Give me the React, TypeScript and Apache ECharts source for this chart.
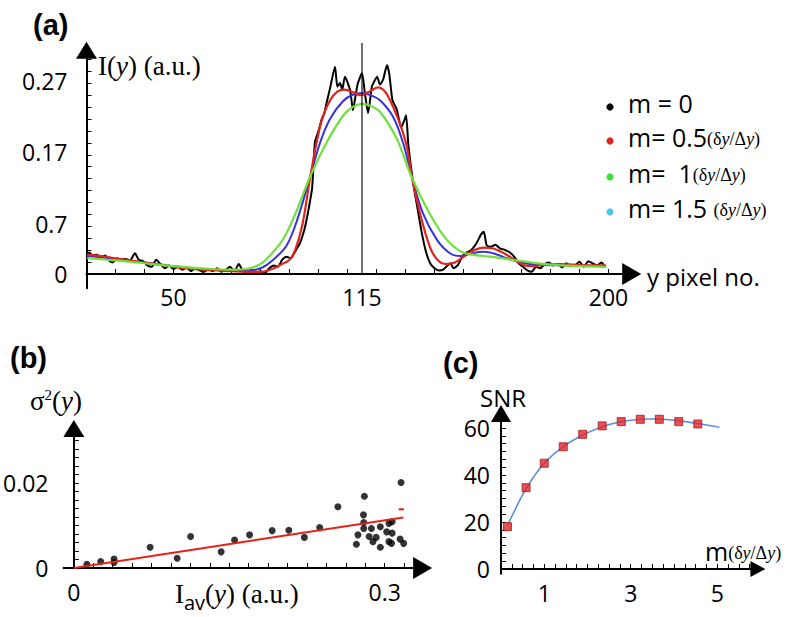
import React, { useEffect, useRef } from "react";
import * as echarts from "echarts";

const SANS = "'Open Sans', 'Noto Sans', sans-serif";
const SERIF = "'Liberation Serif', 'DejaVu Serif', serif";

// ---------- Panel (a): intensity profiles ----------
const aXLabelValues = [50, 115, 200];
const aXTickValues = [30, 40, 50, 60, 70, 80, 90, 100, 110, 120, 130, 140, 150, 160, 170, 180, 190, 200];
const aYLabelValues = [0, 0.07, 0.17, 0.27];
const aYLabelTexts = ["0", "0.7", "0.17", "0.27"];
const aYTickValues = Array.from({ length: 19 }, (_, i) => +(i / 60).toFixed(4));
const centerPixel = 115;
const centerLineTop = 0.323;

const profileM0: number[][] = [
  [20.2, 0.028], [21, 0.03], [22, 0.026], [23.5, 0.027], [25, 0.024], [26.5, 0.026], [28, 0.018], [29, 0.016],
  [30.5, 0.022], [32, 0.02], [33.5, 0.021], [35, 0.019], [36.7, 0.029], [38, 0.02], [39.5, 0.018], [41, 0.012],
  [42.5, 0.01], [44, 0.02], [45.5, 0.014], [47, 0.008], [48.5, 0.012], [50, 0.007], [51.5, 0.01], [53, 0.006],
  [54.5, 0.009], [56, 0.004], [57.5, 0.008], [59, 0.005], [60.5, 0.003], [62, 0.007], [63.5, 0.004], [65, 0.008],
  [66.5, 0.003], [68, 0.006], [69.5, 0.01], [71, 0.004], [72.5, 0.014], [74, 0.004], [75.5, 0.002], [77, 0.006],
  [78.5, 0.002], [80, 0.004], [81.5, 0.001], [83, 0.008], [84.5, 0.012], [86, 0.01], [87.5, 0.02], [89, 0.024],
  [90.5, 0.022], [92, 0.032], [93.6, 0.043], [95, 0.06], [96, 0.078], [97, 0.1], [97.8, 0.12], [98.8, 0.185],
  [100, 0.2], [101, 0.215], [102, 0.225], [103, 0.243], [104, 0.26], [105.7, 0.29], [106.5, 0.262], [107.4, 0.267],
  [108.2, 0.258], [109.1, 0.276], [110.9, 0.257], [111.9, 0.229], [112.8, 0.25], [113.6, 0.267], [115, 0.281],
  [116, 0.253], [117.1, 0.225], [118.4, 0.262], [119.3, 0.27], [120.2, 0.276], [121.2, 0.265], [122.3, 0.272],
  [123.6, 0.292], [124.4, 0.28], [125.5, 0.243], [127, 0.23], [128.5, 0.205], [129.6, 0.215], [130.2, 0.222],
  [131, 0.18], [132.5, 0.131], [134, 0.095], [135.5, 0.06], [137, 0.032], [138.5, 0.015], [140, 0.008],
  [141.5, 0.005], [143, 0.006], [144.5, 0.012], [145.5, 0.015], [146.5, 0.008], [148, 0.012], [149.5, 0.024],
  [151, 0.03], [152.5, 0.033], [154, 0.04], [155, 0.047], [156, 0.055], [157, 0.059], [158, 0.04], [159.5, 0.038],
  [161, 0.041], [162.5, 0.036], [164, 0.034], [166, 0.03], [167.5, 0.024], [169, 0.015], [170.5, 0.01],
  [172, 0.005], [173.5, 0.003], [175, 0.01], [176.5, 0.008], [178, 0.014], [179.5, 0.016], [181, 0.012],
  [182.5, 0.014], [184, 0.009], [185.5, 0.015], [187, 0.011], [188.5, 0.012], [190, 0.017], [191.5, 0.01],
  [193, 0.018], [194.5, 0.015], [196, 0.012], [197.5, 0.016], [199, 0.01],
];

const profileM05: number[][] = [
  [20.2, 0.027], [25, 0.025], [30, 0.022], [35, 0.019], [40, 0.016], [45, 0.013], [50, 0.01], [55, 0.008],
  [60, 0.006], [65, 0.005], [70, 0.004], [75, 0.003], [80, 0.003], [84, 0.007], [87, 0.013], [90, 0.02],
  [92, 0.034], [94.5, 0.07], [97, 0.132], [99.5, 0.187], [101.5, 0.22], [104, 0.243], [106.5, 0.255],
  [109, 0.258], [112, 0.254], [114.5, 0.25], [117.5, 0.255], [120.5, 0.261], [123, 0.255], [125, 0.24],
  [128, 0.211], [130.5, 0.178], [132.2, 0.136], [135, 0.085], [138.4, 0.038], [141, 0.02], [144, 0.014],
  [147, 0.016], [150, 0.024], [153, 0.032], [157, 0.037], [160, 0.036], [163, 0.031], [166, 0.024],
  [169, 0.016], [171, 0.012], [174, 0.011], [178, 0.013], [183, 0.014], [188, 0.013], [193, 0.012], [199, 0.012],
];

const profileM1: number[][] = [
  [20.2, 0.022], [30, 0.019], [40, 0.015], [50, 0.011], [60, 0.008], [70, 0.006], [75, 0.007], [80, 0.014],
  [84, 0.029], [88, 0.05], [92, 0.084], [97.1, 0.136], [102.8, 0.184], [108.6, 0.222], [112, 0.234],
  [115, 0.238], [118, 0.235], [121.2, 0.227], [127, 0.189], [132.1, 0.136], [138.4, 0.084], [144.2, 0.048],
  [148.8, 0.032], [153, 0.027], [160, 0.024], [170, 0.018], [180, 0.013], [190, 0.011], [199, 0.01],
];

const profileM15: number[][] = [
  [20.2, 0.025], [30, 0.021], [40, 0.016], [50, 0.011], [60, 0.007], [70, 0.005], [75, 0.005], [80, 0.008],
  [84.4, 0.02], [89, 0.04], [92.6, 0.075], [97.1, 0.136], [100.5, 0.183], [104, 0.217], [108.5, 0.242],
  [112, 0.251], [115, 0.253], [118, 0.25], [121.2, 0.243], [125.7, 0.22], [129.2, 0.183], [132.2, 0.136],
  [136, 0.085], [140.8, 0.048], [145.3, 0.029], [149, 0.025], [153, 0.029], [157, 0.031], [161, 0.028],
  [165, 0.022], [170, 0.016], [175, 0.013], [185, 0.012], [199, 0.011],
];

const legendRows = [
  { main: "m = 0", unit: false, color: "#000000" },
  { main: "m= 0.5", unit: true, color: "#e2231a" },
  { main: "m=\u00a0 1", unit: true, color: "#3fe03a" },
  { main: "m= 1.5\u00a0", unit: true, color: "#4cc4ee" },
];

// ---------- Panel (b): variance vs mean intensity ----------
const intensityAv = [
  0.0126, 0.0259, 0.0388, 0.0388, 0.0736, 0.0997, 0.1127, 0.1422, 0.1551, 0.1696, 0.1914, 0.2075, 0.2225,
  0.2373, 0.2548, 0.2727, 0.2742, 0.2795, 0.2804, 0.2798, 0.2798, 0.2872, 0.285, 0.2887, 0.2918, 0.2958,
  0.2958, 0.3019, 0.3041, 0.3041, 0.3072, 0.3072, 0.3066, 0.3158, 0.3149, 0.3183,
];
const varianceValues = [
  0.0009, 0.0015, 0.0021, 0.0013, 0.0049, 0.0023, 0.0074, 0.0038, 0.0066, 0.0078, 0.0088, 0.0089, 0.0072,
  0.0095, 0.0144, 0.0056, 0.0078, 0.0125, 0.0169, 0.0107, 0.0093, 0.0093, 0.0074, 0.0062, 0.0072, 0.0097,
  0.0049, 0.0085, 0.0105, 0.0062, 0.0082, 0.0109, 0.0058, 0.0201, 0.0068, 0.0058,
];
const fitLineB = [[0, 0], [0.318, 0.0119]];
const fitDashB = [[0.3135, 0.0138], [0.3185, 0.0138]];
const bXLabelValues = [0, 0.3];
const bYLabelValues = [0, 0.02];
const bXTickValues = Array.from({ length: 18 }, (_, i) => +(i * 0.01875).toFixed(5));
const bYTickValues = Array.from({ length: 16 }, (_, i) => +(i * 0.002).toFixed(4));

// ---------- Panel (c): SNR vs m ----------
const mValues = [0.15, 0.58, 1.0, 1.44, 1.89, 2.34, 2.78, 3.22, 3.66, 4.11, 4.55];
const snrValues = [18.0, 34.6, 45.0, 52.0, 57.3, 60.9, 62.7, 63.7, 63.7, 62.7, 61.7];
const fitM = [0.15, 0.4, 0.6, 1.0, 1.5, 2.0, 2.5, 3.0, 3.5, 4.0, 4.5, 5.05];
const fitSnr = [18.5, 28, 34.8, 45, 52.8, 58, 61.5, 63.3, 63.8, 63.3, 62, 60.3];
const cXLabelValues = [1, 3, 5];
const cYLabelValues = [0, 20, 40, 60];
const cXTickValues = Array.from({ length: 24 }, (_, i) => i * 0.25);
const cYTickValues = Array.from({ length: 20 }, (_, i) => +((i * 10) / 3).toFixed(3));

function makeAxis(
  gridIndex: number,
  min: number,
  max: number,
  labels: number[],
  ticks: number[],
  arrow: number[],
  margin: number,
  formatter?: (v: number) => string
) {
  return {
    gridIndex,
    type: "value",
    min,
    max,
    axisLine: {
      show: true,
      onZero: true,
      symbol: ["none", "triangle"],
      symbolSize: arrow,
      lineStyle: { color: "#000", width: 2 },
    },
    axisTick: {
      show: true,
      inside: true,
      length: 5,
      customValues: ticks,
      lineStyle: { color: "#000", width: 1 },
    },
    axisLabel: {
      show: true,
      customValues: labels,
      margin,
      color: "#000",
      fontFamily: SANS,
      fontSize: 23,
      formatter: formatter || ((v: number) => String(v)),
    },
    splitLine: { show: false },
  };
}

const smallUnitRich = {
  m: { fontFamily: SANS, fontSize: 25, color: "#000", verticalAlign: "bottom" },
  s: { fontFamily: SERIF, fontSize: 18, color: "#000", verticalAlign: "bottom", padding: [0, 0, 2, 0] },
  i: { fontFamily: SERIF, fontSize: 18, fontStyle: "italic", color: "#000", verticalAlign: "bottom", padding: [0, 0, 2, 0] },
};
const unitText = "{s|(δ}{i|y}{s|/Δ}{i|y}{s|)}";

export default function App() {
  const ref = useRef<HTMLDivElement>(null);
  useEffect(() => {
    if (!ref.current) return;
    const chart = echarts.init(ref.current, null, { renderer: "svg" });

    const legendY = [103, 137, 173, 208];
    const legendGraphics: any[] = [];
    legendRows.forEach((row, i) => {
      legendGraphics.push({
        type: "circle",
        shape: { cx: 610, cy: legendY[i] + 4, r: 3.6 },
        style: { fill: row.color },
      });
      legendGraphics.push({
        type: "text",
        x: 628,
        y: legendY[i],
        style: {
          text: "{m|" + row.main + "}" + (row.unit ? unitText : ""),
          rich: smallUnitRich,
          align: "left",
          verticalAlign: "middle",
        },
      });
    });

    const option: any = {
      animation: false,
      backgroundColor: "#ffffff",
      grid: [
        { left: 86.5, top: 50.2, width: 545.2, height: 238.1 },
        { left: 47.2, top: 428.6, width: 375.4, height: 139.4 },
        { left: 501, top: 413.4, width: 256.9, height: 160.3 },
      ],
      xAxis: [
        makeAxis(0, 20, 208, aXLabelValues, aXTickValues, [22, 19], -3),
        makeAxis(1, -0.01, 0.3366, bXLabelValues, bXTickValues, [22, 19], 12),
        makeAxis(2, 0, 5.94, cXLabelValues, cXTickValues, [16, 15], 8),
      ],
      yAxis: [
        makeAxis(0, -0.02, 0.313, aYLabelValues, aYTickValues, [21, 17], 19, (v: number) => {
          const idx = aYLabelValues.findIndex((x) => Math.abs(x - v) < 1e-6);
          return idx >= 0 ? aYLabelTexts[idx] : "";
        }),
        makeAxis(1, 0, 0.0328, bYLabelValues, bYTickValues, [21, 17], 15),
        makeAxis(2, -2, 66.2, cYLabelValues, cYTickValues, [20, 17], 11),
      ],
      series: [
        {
          name: "m = 0",
          type: "line",
          xAxisIndex: 0,
          yAxisIndex: 0,
          data: profileM0,
          showSymbol: false,
          smooth: 0.2,
          lineStyle: { color: "#000", width: 2 },
          z: 2,
        },
        {
          name: "m = 1.5",
          type: "line",
          xAxisIndex: 0,
          yAxisIndex: 0,
          data: profileM15,
          showSymbol: false,
          smooth: 0.35,
          lineStyle: { color: "#3434dc", width: 2 },
          z: 3,
        },
        {
          name: "m = 0.5",
          type: "line",
          xAxisIndex: 0,
          yAxisIndex: 0,
          data: profileM05,
          showSymbol: false,
          smooth: 0.35,
          lineStyle: { color: "#e2231a", width: 2.2 },
          z: 4,
        },
        {
          name: "m = 1",
          type: "line",
          xAxisIndex: 0,
          yAxisIndex: 0,
          data: profileM1,
          showSymbol: false,
          smooth: 0.35,
          lineStyle: { color: "#6ee03a", width: 2.2 },
          z: 5,
        },
        {
          name: "center",
          type: "line",
          xAxisIndex: 0,
          yAxisIndex: 0,
          data: [[centerPixel, 0], [centerPixel, centerLineTop]],
          showSymbol: false,
          clip: false,
          lineStyle: { color: "#111", width: 1.2 },
          z: 6,
        },
        {
          name: "variance",
          type: "scatter",
          xAxisIndex: 1,
          yAxisIndex: 1,
          data: intensityAv.map((x, i) => [x, varianceValues[i]]),
          symbolSize: 7,
          itemStyle: { color: "#000" },
        },
        {
          name: "fitB",
          type: "line",
          xAxisIndex: 1,
          yAxisIndex: 1,
          data: fitLineB,
          showSymbol: false,
          lineStyle: { color: "#e2231a", width: 2 },
          z: 4,
        },
        {
          name: "fitBdash",
          type: "line",
          xAxisIndex: 1,
          yAxisIndex: 1,
          data: fitDashB,
          showSymbol: false,
          lineStyle: { color: "#e2231a", width: 2 },
        },
        {
          name: "snrFit",
          type: "line",
          xAxisIndex: 2,
          yAxisIndex: 2,
          data: fitM.map((x, i) => [x, fitSnr[i]]),
          showSymbol: false,
          smooth: 0.4,
          lineStyle: { color: "#5b8fd6", width: 1.6 },
        },
        {
          name: "snr",
          type: "scatter",
          xAxisIndex: 2,
          yAxisIndex: 2,
          data: mValues.map((x, i) => [x, snrValues[i]]),
          symbol: "rect",
          symbolSize: 8,
          itemStyle: { color: "#e3262b", borderColor: "#a01c1c", borderWidth: 1 },
          z: 5,
        },
      ],
      graphic: [
        { type: "text", x: 33, y: 25, style: { text: "(a)", font: "bold 29px 'Liberation Sans', Arial, sans-serif", fill: "#000", verticalAlign: "middle" } },
        { type: "text", x: 10, y: 358, style: { text: "(b)", font: "bold 29px 'Liberation Sans', Arial, sans-serif", fill: "#000", verticalAlign: "middle" } },
        { type: "text", x: 443, y: 363, style: { text: "(c)", font: "bold 29px 'Liberation Sans', Arial, sans-serif", fill: "#000", verticalAlign: "middle" } },
        {
          type: "text",
          x: 98,
          y: 66,
          style: {
            text: "{r|I(}{i|y}{r|) (a.u.)}",
            rich: {
              r: { fontFamily: SERIF, fontSize: 27, color: "#000" },
              i: { fontFamily: SERIF, fontSize: 27, fontStyle: "italic", color: "#000" },
            },
            verticalAlign: "middle",
          },
        },
        { type: "text", x: 647, y: 276, style: { text: "y pixel no.", fontFamily: SANS, fontSize: 24, fill: "#000", verticalAlign: "middle" } },
        ...legendGraphics,
        {
          type: "text",
          x: 30,
          y: 401,
          style: {
            text: "{r|σ}{p|2}{r|(}{i|y}{r|)}",
            rich: {
              r: { fontFamily: SERIF, fontSize: 27, color: "#000", verticalAlign: "bottom" },
              i: { fontFamily: SERIF, fontSize: 27, fontStyle: "italic", color: "#000", verticalAlign: "bottom" },
              p: { fontFamily: SERIF, fontSize: 15, color: "#000", verticalAlign: "top" },
            },
            verticalAlign: "middle",
          },
        },
        {
          type: "text",
          x: 175,
          y: 596,
          style: {
            text: "{r|I}{sub|av}{r|(}{i|y}{r|) (a.u.)}",
            rich: {
              r: { fontFamily: SERIF, fontSize: 27, color: "#000", verticalAlign: "bottom", padding: [0, 0, 5, 0] },
              i: { fontFamily: SERIF, fontSize: 27, fontStyle: "italic", color: "#000", verticalAlign: "bottom", padding: [0, 0, 5, 0] },
              sub: { fontFamily: SANS, fontSize: 20, color: "#000", verticalAlign: "bottom" },
            },
            verticalAlign: "middle",
          },
        },
        { type: "text", x: 480, y: 397, style: { text: "SNR", fontFamily: SANS, fontSize: 24, fill: "#000", verticalAlign: "middle" } },
        {
          type: "text",
          x: 705,
          y: 551,
          style: {
            text: "{m|m}" + unitText,
            rich: smallUnitRich,
            verticalAlign: "middle",
          },
        },
      ],
    };

    chart.setOption(option);
    return () => {
      chart.dispose();
    };
  }, []);

  return (
    <div
      ref={ref}
      style={{ position: "absolute", left: 0, top: 0, width: 786, height: 617, background: "#fff" }}
    />
  );
}
